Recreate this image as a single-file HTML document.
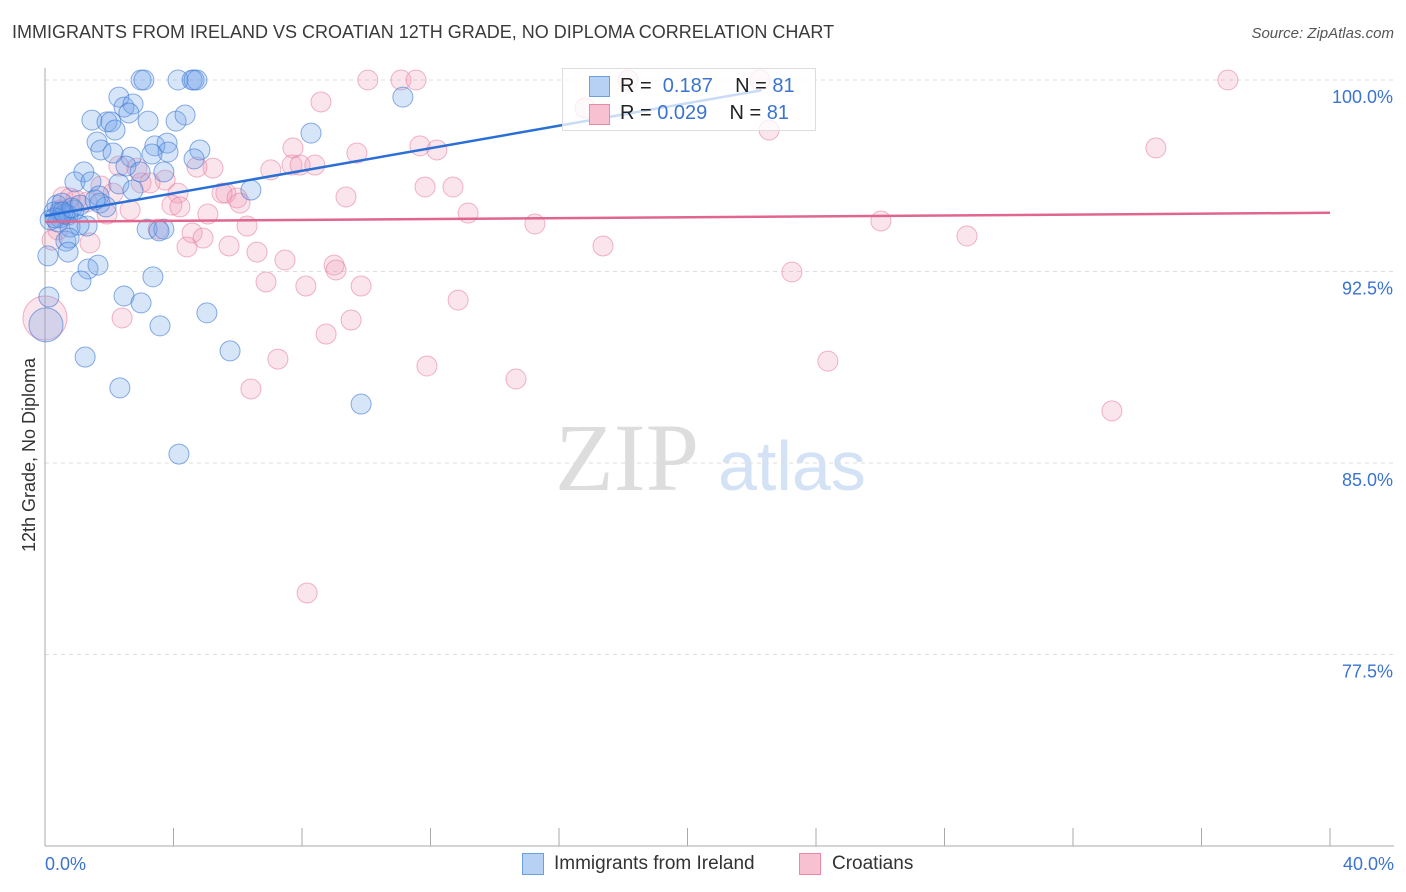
<!DOCTYPE html>
<html><head><meta charset="utf-8">
<style>
body{margin:0;background:#fff;font-family:"Liberation Sans",sans-serif;}
#wrap{position:relative;width:1406px;height:892px;overflow:hidden;}
.t{position:absolute;white-space:nowrap;}
</style></head>
<body>
<div id="wrap">
<div class="t" style="left:12px;top:22px;font-size:18px;color:#3a3a3a;">IMMIGRANTS FROM IRELAND VS CROATIAN 12TH GRADE, NO DIPLOMA CORRELATION CHART</div>
<div class="t" style="right:12px;top:25px;font-size:15px;color:#555;font-style:italic;">Source: ZipAtlas.com</div>
<svg id="plot" width="1406" height="892" style="position:absolute;left:0;top:0">
<text x="555" y="490" font-family="Liberation Serif,serif" font-size="96" fill="#ddd">ZIP</text>
<text x="718" y="490" font-family="Liberation Sans,sans-serif" font-size="70" fill="#d4e2f5">atlas</text>
<text transform="translate(35,455) rotate(-90)" text-anchor="middle" font-size="18" fill="#333">12th Grade, No Diploma</text>
</svg>
<div style="position:absolute;left:562px;top:68px;width:252px;height:61px;border:1px solid #ddd;background:rgba(255,255,255,0.75);">
 <div style="position:absolute;left:26px;top:7px;width:19px;height:19px;background:#b7d1f5;border:1px solid #6d9ee0;"></div>
 <div class="t" style="left:57px;top:6px;font-size:20px;color:#222;">R = &nbsp;<span style="color:#3a73d0">0.187</span>&nbsp;&nbsp;&nbsp;&nbsp;N = <span style="color:#3a73d0">81</span></div>
 <div style="position:absolute;left:26px;top:35px;width:19px;height:19px;background:#f7c1d1;border:1px solid #e88aa6;"></div>
 <div class="t" style="left:57px;top:33px;font-size:20px;color:#222;">R = <span style="color:#3a73d0">0.029</span>&nbsp;&nbsp;&nbsp;&nbsp;N = <span style="color:#3a73d0">81</span></div>
</div>
<div>
 <div style="position:absolute;left:522px;top:853px;width:20px;height:20px;background:#b7d1f5;border:1px solid #6d9ee0;"></div>
 <div class="t" style="left:554px;top:853px;font-size:19px;color:#333;">Immigrants from Ireland</div>
 <div style="position:absolute;left:799px;top:853px;width:20px;height:20px;background:#f7c1d1;border:1px solid #e88aa6;"></div>
 <div class="t" style="left:832px;top:853px;font-size:19px;color:#333;">Croatians</div>
</div>
</div>
<script>
const yTicks=[100,92.5,85,77.5];
const yTickLabels=["100.0%","92.5%","85.0%","77.5%"];
const xEndLabels=["0.0%","40.0%"];
const blueX=[2.99,3.08,4.14,4.58,4.64,4.73,11.14,2.30,2.46,2.74,2.61,1.46,1.93,2.05,3.21,4.08,4.36,2.18,8.28,1.62,1.74,2.12,2.68,3.42,3.80,3.83,4.82,3.33,4.64,1.21,2.52,2.96,3.70,0.93,1.43,2.30,1.68,2.74,6.41,0.37,0.28,0.53,0.90,1.71,1.90,0.47,0.72,0.16,0.40,0.78,1.31,1.06,3.18,3.70,3.55,0.65,0.75,0.72,0.09,1.34,1.65,1.12,3.36,0.12,2.46,2.99,5.04,3.58,0.03,1.25,5.76,2.33,9.84,4.17,0.47,0.62,0.31,0.56,0.84,1.09,1.56];
const blueY=[100,100,100,100,100,100,99.33,99.33,98.94,99.06,98.71,98.43,98.36,98.36,98.39,98.39,98.63,98.04,97.92,97.57,97.26,97.14,96.98,97.42,97.53,97.18,97.26,97.10,96.91,96.40,96.63,96.40,96.40,96.01,96.01,95.93,95.46,95.69,95.69,95.10,94.83,95.18,94.91,95.18,95.03,94.60,94.71,94.52,94.44,94.24,94.28,94.32,94.16,94.16,94.09,93.69,93.81,93.26,93.11,92.60,92.75,92.13,92.29,91.50,91.54,91.27,90.88,90.37,90.41,89.15,89.39,87.94,87.31,85.35,94.83,94.75,94.60,94.83,94.99,95.10,95.30];
const pinkX=[10.05,11.08,11.55,18.15,22.26,36.82,16.81,8.59,22.54,34.58,7.72,9.71,11.67,12.20,7.69,7.94,8.40,7.03,5.23,4.73,2.30,2.86,3.74,2.99,1.74,2.12,11.83,12.70,9.37,5.63,5.51,5.98,6.07,4.14,3.95,4.20,0.56,0.96,1.31,0.47,2.65,1.93,5.07,13.17,15.25,26.02,28.70,17.37,6.29,3.52,4.58,4.92,1.40,4.42,5.73,6.60,7.47,9.00,9.06,23.25,6.88,8.12,9.84,12.86,2.40,9.53,8.75,7.25,11.89,24.37,14.66,6.41,33.21,8.16,0.22,0.78,3.27,0.40,0.0];
const pinkY=[100,100,100,100,100,100,98.90,99.14,98.04,97.34,97.34,97.14,97.42,97.26,96.67,96.67,96.67,96.48,96.55,96.59,96.63,96.55,96.08,95.97,95.85,95.57,95.81,95.81,95.42,95.57,95.57,95.38,95.18,95.57,95.10,95.03,95.42,95.30,95.22,94.91,94.91,94.75,94.75,94.79,94.36,94.48,93.89,93.50,94.28,94.16,94.01,93.81,93.62,93.46,93.50,93.26,92.95,92.75,92.56,92.48,92.09,91.93,91.93,91.38,90.68,90.60,90.05,89.07,88.80,88.99,88.29,87.90,87.04,79.91,93.73,95.38,95.97,94.13,90.68];
const blueTrend=[[0,94.68],[22.3,99.6]];
const pinkTrend=[[0,94.45],[40,94.8]];
const xs=v=>45+v/40*1285;
const ys=v=>80+(100-v)/7.5*191.5;
const svg=document.getElementById('plot');
const NS='http://www.w3.org/2000/svg';
function mk(tag,attrs){const e=document.createElementNS(NS,tag);for(const k in attrs)e.setAttribute(k,attrs[k]);svg.appendChild(e);return e;}
yTicks.forEach((t,i)=>{
 const g=mk('line',{x1:45,x2:1394,y1:ys(t),y2:ys(t),stroke:'#ddd','stroke-dasharray':'4,4'});
 
 
 const l=mk('text',{x:1393,y:ys(t)+23,'text-anchor':'end','font-size':18,fill:'#3a73d0'});
 l.textContent=yTickLabels[i];
 
 
});
const ax=mk('line',{x1:45,x2:45,y1:68,y2:846,stroke:'#aaa'});


const bx=mk('line',{x1:45,x2:1394,y1:846,y2:846,stroke:'#aaa'});


for(let i=0;i<=10;i++){
 const t=mk('line',{x1:xs(i*4),x2:xs(i*4),y1:828,y2:846,stroke:'#aaa'});
 
 
}
[[0,'start',45],[40,'end',1394]].forEach((d,i)=>{
 const l=mk('text',{x:d[2],y:870,'text-anchor':d[1],'font-size':18,fill:'#3a73d0'});
 l.textContent=xEndLabels[i];
 
 
});
function dots(X,Y,fill,stroke,name){
 X.forEach((x,i)=>{
  const r=(x<0.05&&Y[i]<91)?(name==='pink-point'?22:17):10;
  const c=mk('circle',{cx:xs(x),cy:ys(Y[i]),r:r,fill:fill,stroke:stroke,'stroke-width':1});
  
  
 });
}
dots(pinkX,pinkY,'rgba(240,150,180,0.25)','rgba(230,120,155,0.55)','pink-point');
dots(blueX,blueY,'rgba(110,160,235,0.28)','rgba(60,120,210,0.6)','blue-point');
const bl=mk('line',{x1:xs(blueTrend[0][0]),y1:ys(blueTrend[0][1]),x2:xs(blueTrend[1][0]),y2:ys(blueTrend[1][1]),stroke:'#2a6fd6','stroke-width':2.5});


const pl=mk('line',{x1:xs(pinkTrend[0][0]),y1:ys(pinkTrend[0][1]),x2:xs(pinkTrend[1][0]),y2:ys(pinkTrend[1][1]),stroke:'#e0668f','stroke-width':2.5});


</script>
</body></html>
